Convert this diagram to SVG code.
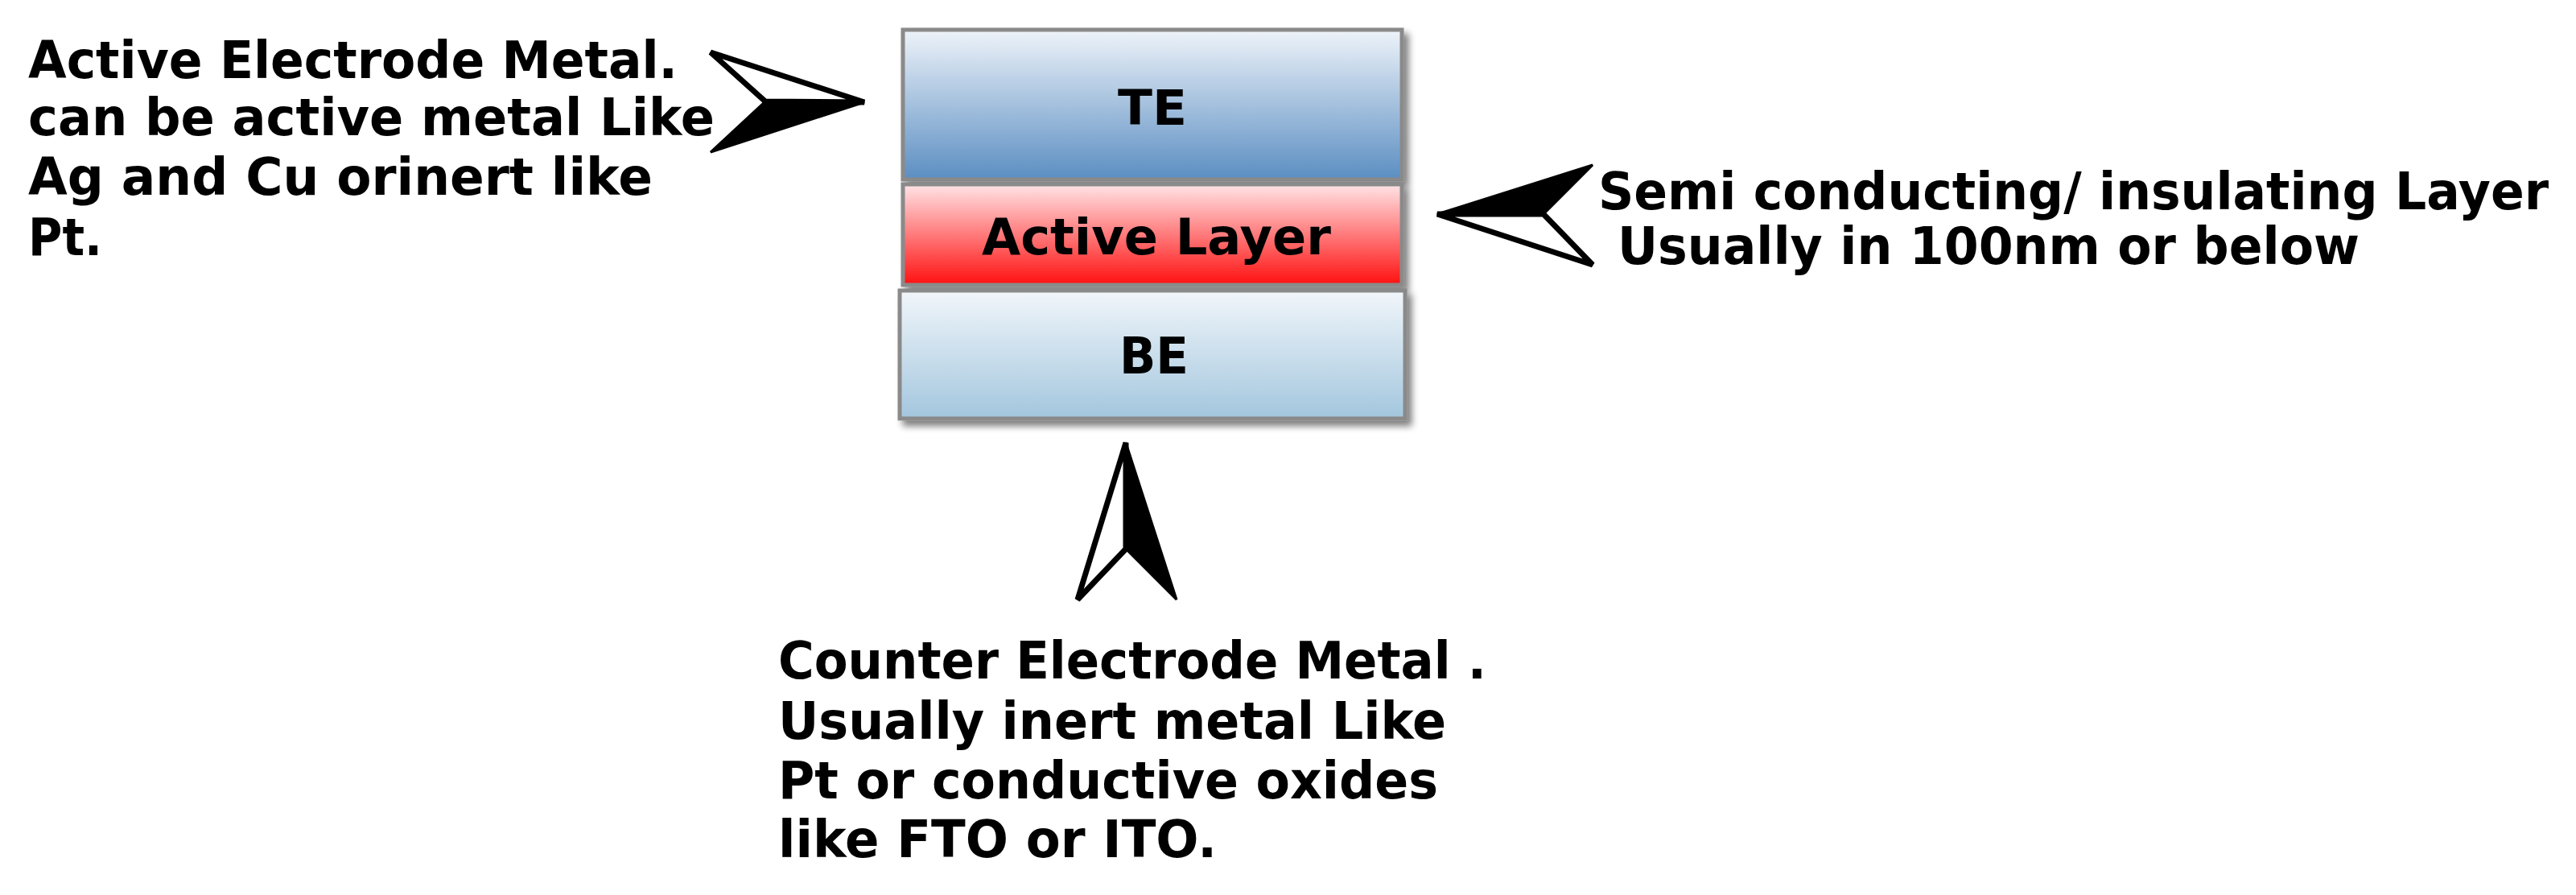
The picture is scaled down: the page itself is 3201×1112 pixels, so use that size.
<svg xmlns="http://www.w3.org/2000/svg" width="3201" height="1112" viewBox="0 0 3201 1112">
<defs>
<linearGradient id="gTE" x1="0" y1="0" x2="0" y2="1"><stop offset="0" stop-color="#eef3f9"/><stop offset="1" stop-color="#5b8ec2"/></linearGradient>
<linearGradient id="gAL" x1="0" y1="0" x2="0" y2="1"><stop offset="0" stop-color="#ffe4e6"/><stop offset="1" stop-color="#ff1010"/></linearGradient>
<linearGradient id="gBE" x1="0" y1="0" x2="0" y2="1"><stop offset="0" stop-color="#f1f6fa"/><stop offset="1" stop-color="#a3c6de"/></linearGradient>
<filter id="sh" x="-5%" y="-10%" width="115%" height="130%"><feGaussianBlur in="SourceAlpha" stdDeviation="4"/><feOffset dx="6" dy="7"/><feComponentTransfer><feFuncA type="linear" slope="0.5"/></feComponentTransfer><feMerge><feMergeNode/><feMergeNode in="SourceGraphic"/></feMerge></filter>
</defs>
<style>
text{font-family:"DejaVu Sans","Liberation Sans",sans-serif;font-weight:bold;fill:#000}
.t{font-size:64px}
.box{stroke:#8a8a8a;stroke-width:5}
.bl{fill:#000;stroke:#000;stroke-width:3;stroke-linejoin:miter}
.wh{fill:#fff;stroke:#000;stroke-width:7;stroke-linejoin:miter}
</style>
<g id="TE" filter="url(#sh)"><rect class="box" x="1122" y="37" width="620" height="186" fill="url(#gTE)"/><text x="1432" y="155" text-anchor="middle" font-size="60" fill="#222" textLength="86" lengthAdjust="spacingAndGlyphs">TE</text></g>
<g id="ActiveLayer" filter="url(#sh)"><rect class="box" x="1122" y="229" width="620" height="125" fill="url(#gAL)"/><text x="1437" y="316" text-anchor="middle" font-size="62" textLength="434" lengthAdjust="spacingAndGlyphs">Active Layer</text></g>
<g id="BE" filter="url(#sh)"><rect class="box" x="1118" y="361" width="628" height="159" fill="url(#gBE)"/><text x="1434" y="464" text-anchor="middle" font-size="62" textLength="86" lengthAdjust="spacingAndGlyphs">BE</text></g>
<g id="connectors">
<polygon class="wh" points="1074,127 883,65 951,126"/><polygon class="bl" points="1074,127 951,126 883,189"/>
<polygon class="bl" points="1786,266 1979,205 1918,266"/><polygon class="wh" points="1786,266 1918,266 1979,329"/>
<polygon class="wh" points="1399,550 1339,745 1399,682"/><polygon class="bl" points="1399,550 1399,682 1462,745"/>
</g>
<g id="label-left">
<text class="t" x="35" y="97" textLength="807" lengthAdjust="spacingAndGlyphs">Active Electrode Metal.</text>
<text class="t" x="35" y="168" textLength="853" lengthAdjust="spacingAndGlyphs">can be active metal Like</text>
<text class="t" x="35" y="242" textLength="776" lengthAdjust="spacingAndGlyphs">Ag and Cu orinert like</text>
<text class="t" x="35" y="317" textLength="92" lengthAdjust="spacingAndGlyphs">Pt.</text>
</g>
<g id="label-right">
<text class="t" x="1986" y="260" textLength="1181" lengthAdjust="spacingAndGlyphs">Semi conducting/ insulating Layer</text>
<text class="t" x="2010" y="328" textLength="922" lengthAdjust="spacingAndGlyphs">Usually in 100nm or below</text>
</g>
<g id="label-bottom">
<text class="t" x="967" y="843" textLength="880" lengthAdjust="spacingAndGlyphs">Counter Electrode Metal .</text>
<text class="t" x="967" y="918" textLength="830" lengthAdjust="spacingAndGlyphs">Usually inert metal Like</text>
<text class="t" x="967" y="992" textLength="820" lengthAdjust="spacingAndGlyphs">Pt or conductive oxides</text>
<text class="t" x="967" y="1065" textLength="545" lengthAdjust="spacingAndGlyphs">like FTO or ITO.</text>
</g>
</svg>
